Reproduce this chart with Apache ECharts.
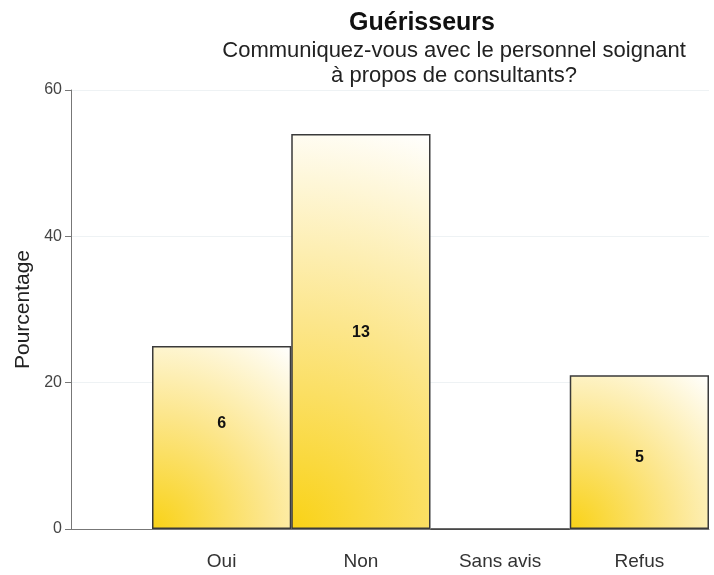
<!DOCTYPE html>
<html>
<head>
<meta charset="utf-8">
<script src="https://cdn.jsdelivr.net/npm/echarts@6/dist/echarts.min.js"></script>
<style>html,body{margin:0;padding:0;background:#fff}#c{width:714px;height:575px}</style>
</head>
<body>
<div id="c"></div>
<script>
const categories = ['Oui', 'Non', 'Sans avis', 'Refus'];
const percentages = [25, 54, 0, 21];
const counts = [6, 13, 0, 5];
const yTicks = { min: 0, max: 60, interval: 20 };
const titleText = 'Guérisseurs';
const subtitleText = 'Communiquez-vous avec le personnel soignant\nà propos de consultants?';
const yName = 'Pourcentage';

const FONT = '"Liberation Sans", Arial, Helvetica, sans-serif';
const gridTop = 90, gridBottom = 46;
const plotH = 575 - gridTop - gridBottom;
const barLeft = 152, gridRight = 5;
const bandW = (714 - gridRight - barLeft) / categories.length;
// vertical nudges of the count labels (px), as placed in the reference
const labelNudge = [-14, 1.5, 0, 5.5];

function fillFor(v) {
  const h = v / yTicks.max * plotH;
  const w = bandW;
  const m = Math.max(1, Math.min(w, h));
  const r = Math.sqrt(w * w + h * h) / m;
  return {
    type: 'radial', x: 0, y: 1, r: r,
    colorStops: [
      { offset: 0, color: '#F9D216' },
      { offset: 0.5, color: '#FCE68C' },
      { offset: 1, color: '#FFFFFF' }
    ]
  };
}

const chart = echarts.init(document.getElementById('c'), null, { renderer: 'canvas' });
chart.setOption({
  backgroundColor: '#fff',
  animation: false,
  textStyle: { fontFamily: FONT },
  title: [
    { text: titleText, left: 417, top: 6, textAlign: 'center',
      textStyle: { fontFamily: FONT, fontSize: 25, fontWeight: 'bold', color: '#111' } },
    { text: subtitleText, left: 449, top: 33, textAlign: 'center',
      textStyle: { fontFamily: FONT, fontSize: 22, fontWeight: 'normal', color: '#222', lineHeight: 25 } }
  ],
  grid: [
    { left: 71, right: gridRight, top: gridTop, bottom: gridBottom, containLabel: false },
    { left: barLeft, right: gridRight, top: gridTop, bottom: gridBottom, containLabel: false }
  ],
  xAxis: [
    { type: 'value', gridIndex: 0, min: 0, max: 1,
      axisLine: { show: true, lineStyle: { color: '#777', width: 1 } },
      axisTick: { show: false }, axisLabel: { show: false }, splitLine: { show: false } },
    { type: 'category', gridIndex: 1, data: categories,
      axisLine: { show: false }, axisTick: { show: false },
      axisLabel: { fontFamily: FONT, fontSize: 19, color: '#333', margin: 23 } }
  ],
  yAxis: [
    { type: 'value', gridIndex: 0, min: yTicks.min, max: yTicks.max, interval: yTicks.interval,
      name: yName, nameLocation: 'middle', nameGap: 35, nameRotate: 90,
      nameTextStyle: { fontFamily: FONT, fontSize: 21, color: '#222' },
      axisLine: { show: true, lineStyle: { color: '#777', width: 1 } },
      axisTick: { show: true, length: 6, lineStyle: { color: '#777' } },
      axisLabel: { fontFamily: FONT, fontSize: 16, color: '#444', margin: 9 },
      splitLine: { show: true, lineStyle: { color: '#EEF2F4', width: 1 } } },
    { type: 'value', gridIndex: 1, min: yTicks.min, max: yTicks.max, interval: yTicks.interval, show: false,
      splitLine: { show: false } }
  ],
  series: [{
    type: 'bar',
    xAxisIndex: 1, yAxisIndex: 1,
    barWidth: '100%',
    data: percentages.map((v, i) => ({
      value: v,
      itemStyle: { color: fillFor(v), borderColor: '#3a3a3a', borderWidth: 1.5 },
      label: { offset: [0, labelNudge[i]] }
    })),
    label: {
      show: true, position: 'inside',
      fontFamily: FONT, fontSize: 16, fontWeight: 'bold', color: '#111',
      formatter: p => counts[p.dataIndex] ? String(counts[p.dataIndex]) : ''
    }
  }]
});
</script>
</body>
</html>
